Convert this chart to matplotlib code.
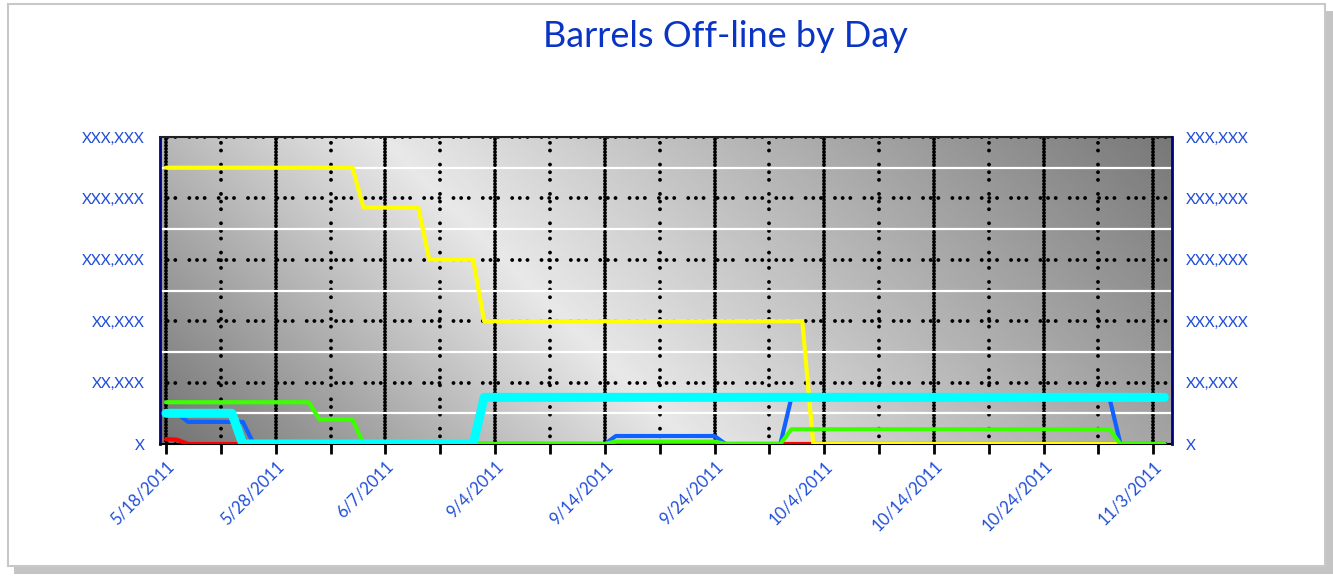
import matplotlib
matplotlib.use("Agg")
import matplotlib.pyplot as plt
import numpy as np
from matplotlib.patches import Rectangle

# Data (one value per day; 1 unit = one major y gridline)
date_labels = ["5/18/2011", "5/28/2011", "6/7/2011", "9/4/2011", "9/14/2011",
               "9/24/2011", "10/4/2011", "10/14/2011", "10/24/2011", "11/3/2011"]
left_labels = ["X", "XX,XXX", "XX,XXX", "XXX,XXX", "XXX,XXX", "XXX,XXX"]
right_labels = ["X", "XX,XXX", "XXX,XXX", "XXX,XXX", "XXX,XXX", "XXX,XXX"]

red = [0.08, 0.07, 0, 0, 0, 0, 0, 0, 0, 0,
       0, 0, 0, 0, 0, 0, 0, 0, 0, 0,
       0, 0, 0, 0, 0, 0, 0, 0, 0, 0,
       0, 0, 0, 0, 0, 0, 0, 0, 0, 0,
       0, 0, 0, 0, 0, 0, 0, 0, 0, 0,
       0, 0, 0, 0, 0, 0, 0, 0, 0, 0,
       0, 0, 0, 0, 0, 0, 0, 0, 0, 0,
       0, 0, 0, 0, 0, 0, 0, 0, 0, 0,
       0, 0, 0, 0, 0, 0, 0, 0, 0, 0,
       0, 0]

yellow = [4.5, 4.5, 4.5, 4.5, 4.5, 4.5, 4.5, 4.5, 4.5, 4.5,
          4.5, 4.5, 4.5, 4.5, 4.5, 4.5, 4.5, 4.5, 3.85, 3.85,
          3.85, 3.85, 3.85, 3.85, 3.0, 3.0, 3.0, 3.0, 3.0, 2.0,
          2.0, 2.0, 2.0, 2.0, 2.0, 2.0, 2.0, 2.0, 2.0, 2.0,
          2.0, 2.0, 2.0, 2.0, 2.0, 2.0, 2.0, 2.0, 2.0, 2.0,
          2.0, 2.0, 2.0, 2.0, 2.0, 2.0, 2.0, 2.0, 2.0, 0,
          0, 0, 0, 0, 0, 0, 0, 0, 0, 0,
          0, 0, 0, 0, 0, 0, 0, 0, 0, 0,
          0, 0, 0, 0, 0, 0, 0, 0, 0, 0,
          0, 0]

blue = [0.5, 0.5, 0.36, 0.36, 0.36, 0.36, 0.36, 0.36, 0, 0,
        0, 0, 0, 0, 0, 0, 0, 0, 0, 0,
        0, 0, 0, 0, 0, 0, 0, 0, 0, 0,
        0, 0, 0, 0, 0, 0, 0, 0, 0, 0,
        0, 0.13, 0.13, 0.13, 0.13, 0.13, 0.13, 0.13, 0.13, 0.13,
        0.13, 0, 0, 0, 0, 0, 0, 0.75, 0.75, 0.75,
        0.75, 0.75, 0.75, 0.75, 0.75, 0.75, 0.75, 0.75, 0.75, 0.75,
        0.75, 0.75, 0.75, 0.75, 0.75, 0.75, 0.75, 0.75, 0.75, 0.75,
        0.75, 0.75, 0.75, 0.75, 0.75, 0.75, 0.75, 0, 0, 0,
        0, 0]

green = [0.68, 0.68, 0.68, 0.68, 0.68, 0.68, 0.68, 0.68, 0.68, 0.68,
         0.68, 0.68, 0.68, 0.68, 0.4, 0.4, 0.4, 0.4, 0, 0,
         0, 0, 0, 0, 0, 0, 0, 0, 0, 0,
         0, 0, 0, 0, 0, 0, 0, 0, 0, 0,
         0, 0.04, 0.04, 0.04, 0.04, 0.04, 0.04, 0.04, 0.04, 0.04,
         0.04, 0, 0, 0, 0, 0, 0, 0.24, 0.24, 0.24,
         0.24, 0.24, 0.24, 0.24, 0.24, 0.24, 0.24, 0.24, 0.24, 0.24,
         0.24, 0.24, 0.24, 0.24, 0.24, 0.24, 0.24, 0.24, 0.24, 0.24,
         0.24, 0.24, 0.24, 0.24, 0.24, 0.24, 0.24, 0, 0, 0,
         0, 0]

cyan = [0.5, 0.5, 0.5, 0.5, 0.5, 0.5, 0.5, 0, 0, 0,
        0, 0, 0, 0, 0, 0, 0, 0, 0, 0,
        0, 0, 0, 0, 0, 0, 0, 0, 0, 0.76,
        0.76, 0.76, 0.76, 0.76, 0.76, 0.76, 0.76, 0.76, 0.76, 0.76,
        0.76, 0.76, 0.76, 0.76, 0.76, 0.76, 0.76, 0.76, 0.76, 0.76,
        0.76, 0.76, 0.76, 0.76, 0.76, 0.76, 0.76, 0.76, 0.76, 0.76,
        0.76, 0.76, 0.76, 0.76, 0.76, 0.76, 0.76, 0.76, 0.76, 0.76,
        0.76, 0.76, 0.76, 0.76, 0.76, 0.76, 0.76, 0.76, 0.76, 0.76,
        0.76, 0.76, 0.76, 0.76, 0.76, 0.76, 0.76, 0.76, 0.76, 0.76,
        0.76, 0.76]

days = np.arange(len(yellow))

plt.rcParams['font.family'] = ['Lato', 'DejaVu Sans']
plt.rcParams['lines.scale_dashes'] = False

LBL = '#1f4ed8'
TITLE = '#0a34c4'
NAVY = '#00007a'
W, H = 1333, 577

fig = plt.figure(figsize=(W / 100, H / 100), dpi=100)

# outer frame with drop shadow
fig.add_artist(Rectangle((14 / W, 3 / H), 1319 / W, 563 / H, transform=fig.transFigure,
                         facecolor='#c4c4c4', edgecolor='none', zorder=-3))
fig.add_artist(Rectangle((8 / W, 11 / H), 1317 / W, 562 / H, transform=fig.transFigure,
                         facecolor='white', edgecolor='#c8c8c8', linewidth=1.5, zorder=-2))

ax = fig.add_axes([160 / W, 1 - 444 / H, (1172 - 160) / W, (444 - 137) / H])
ax.patch.set_visible(False)

# diagonal grey gradient behind the plot
gx = np.linspace(0, 1, 500)
gy = np.linspace(0, 1, 160)
GX, GY = np.meshgrid(gx, gy)
t = (GX * 1012 + GY * 307) / 1319
shade = np.interp(t, [0, 0.4, 1], [0.45, 0.91, 0.47])
ax.imshow(shade, cmap='gray', vmin=0, vmax=1, origin='lower', extent=(0, 1, 0, 1),
          transform=ax.transAxes, aspect='auto', interpolation='bilinear', zorder=0)

lw = 3.0
ax.plot(days, red, color='#ff0000', lw=lw, solid_capstyle='round', zorder=3)
ax.plot(days, yellow, color='#ffff00', lw=lw, solid_capstyle='round', zorder=4)
ax.plot(days, blue, color='#0f62ff', lw=lw, solid_capstyle='round', zorder=5)
ax.plot(days, green, color='#3cff00', lw=lw, solid_capstyle='round', zorder=6)
ax.plot(days, cyan, color='#00ffff', lw=6.5, solid_capstyle='round', zorder=7)

ax.set_xlim(-0.55, 91.7)
ax.set_ylim(0, 5)

major_x = np.arange(len(date_labels)) * 10
ax.set_xticks(major_x)
ax.set_xticks(major_x[:-1] + 5, minor=True)
ax.set_xticklabels(date_labels, rotation=45, ha='right', va='top', rotation_mode='anchor')
ax.set_yticks(np.arange(len(left_labels)))
ax.set_yticks(np.arange(len(left_labels) - 1) + 0.5, minor=True)
ax.set_yticklabels(left_labels)

dots3 = (0, (0.01, 5.5, 0.01, 5.5, 0.01, 10.1))
ax.set_axisbelow(True)
ax.grid(which='major', axis='x', color='black', linestyle=(0, (0.01, 2.3)),
        linewidth=2.8, dash_capstyle='round')
ax.grid(which='minor', axis='x', color='black', linestyle=dots3,
        linewidth=2.8, dash_capstyle='round')
ax.grid(which='major', axis='y', color='black', linestyle=dots3,
        linewidth=2.8, dash_capstyle='round')
ax.grid(which='minor', axis='y', color='white', linestyle='-', linewidth=1.6)

ax.tick_params(axis='y', which='both', length=0, labelsize=11, labelcolor=LBL, pad=11)
ax.tick_params(axis='x', which='both', length=7, width=2, color='black',
               labelsize=12, labelcolor=LBL, pad=3)

ax.spines['left'].set_color(NAVY)
ax.spines['left'].set_linewidth(2)
ax.spines['right'].set_visible(False)
ax.spines['top'].set_color('#222222')
ax.spines['top'].set_linewidth(1.5)
ax.spines['bottom'].set_color('black')
ax.spines['bottom'].set_linewidth(1.5)

ax2 = ax.twinx()
ax2.set_ylim(0, 5)
ax2.set_yticks(np.arange(len(right_labels)))
ax2.set_yticklabels(right_labels)
ax2.tick_params(axis='y', length=0, labelsize=11, labelcolor=LBL, pad=10)
for s in ['left', 'top', 'bottom']:
    ax2.spines[s].set_visible(False)
ax2.spines['right'].set_color(NAVY)
ax2.spines['right'].set_linewidth(2)

fig.text(725 / W, 1 - 47 / H, "Barrels Off-line by Day", ha='center', va='baseline',
         fontsize=26, color=TITLE)

fig.savefig("out.png", dpi=100)
